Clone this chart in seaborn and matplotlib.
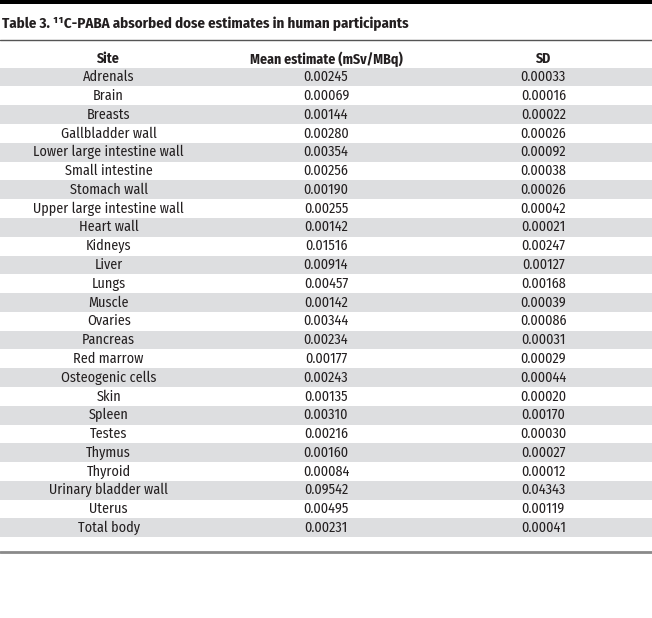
import numpy as np
import seaborn as sns
import matplotlib.pyplot as plt
from matplotlib.colors import ListedColormap

sns.set_theme(style="white")
plt.rcParams['font.family'] = ['Fira Sans Condensed', 'Liberation Sans', 'DejaVu Sans']

# table contents
title = "Table 3. \u00b9\u00b9C-PABA absorbed dose estimates in human participants"
col_names = ["Site", "Mean estimate (mSv/MBq)", "SD"]
sites = ["Adrenals", "Brain", "Breasts", "Gallbladder wall",
         "Lower large intestine wall", "Small intestine", "Stomach wall",
         "Upper large intestine wall", "Heart wall", "Kidneys", "Liver",
         "Lungs", "Muscle", "Ovaries", "Pancreas", "Red marrow",
         "Osteogenic cells", "Skin", "Spleen", "Testes", "Thymus",
         "Thyroid", "Urinary bladder wall", "Uterus", "Total body"]
mean_est = ["0.00245", "0.00069", "0.00144", "0.00280", "0.00354", "0.00256",
            "0.00190", "0.00255", "0.00142", "0.01516", "0.00914", "0.00457",
            "0.00142", "0.00344", "0.00234", "0.00177", "0.00243", "0.00135",
            "0.00310", "0.00216", "0.00160", "0.00084", "0.09542", "0.00495",
            "0.00231"]
sd = ["0.00033", "0.00016", "0.00022", "0.00026", "0.00092", "0.00038",
      "0.00026", "0.00042", "0.00021", "0.00247", "0.00127", "0.00168",
      "0.00039", "0.00086", "0.00031", "0.00029", "0.00044", "0.00020",
      "0.00170", "0.00030", "0.00027", "0.00012", "0.04343", "0.00119",
      "0.00041"]

n = len(sites)
labels = np.array([sites, mean_est, sd]).T
shade = np.array([[1 - (i % 2)] * 3 for i in range(n)])  # zebra stripes

fig = plt.figure(figsize=(6.52, 6.18), dpi=100)
ax = fig.add_axes([0, 0, 1, 1])

sns.heatmap(shade, ax=ax, cmap=ListedColormap(["white", "#dddee0"]),
            vmin=0, vmax=1, cbar=False, annot=labels, fmt="",
            annot_kws={"color": "#231f20", "fontsize": 10.2},
            xticklabels=False, yticklabels=False)

# row pitch ~18.8px, first band starts at ~67.7px
pitch = 18.78
top = -67.7 / pitch
bottom = (618 - 67.7) / pitch
ax.set_xlim(0, 3)
ax.set_ylim(bottom, top)
ax.axis("off")

# header
for j, name in enumerate(col_names):
    ax.text(j + 0.5, -0.47, name, ha="center", va="center",
            fontsize=10.0, fontweight="bold", color="#231f20")

# title and rules
ax.axhspan(top, top + 4.3 / pitch, color="black", lw=0)
ax.text(0.008, top + 23.3 / pitch, title, ha="left", va="center",
        fontsize=10.7, fontweight="bold", color="#231f20")
ax.axhline(top + 40.3 / pitch, color="#555555", lw=1.0)
ax.axhline(top + 552.3 / pitch, color="#8a8a8a", lw=2.0)

fig.savefig("out.png", dpi=100)
